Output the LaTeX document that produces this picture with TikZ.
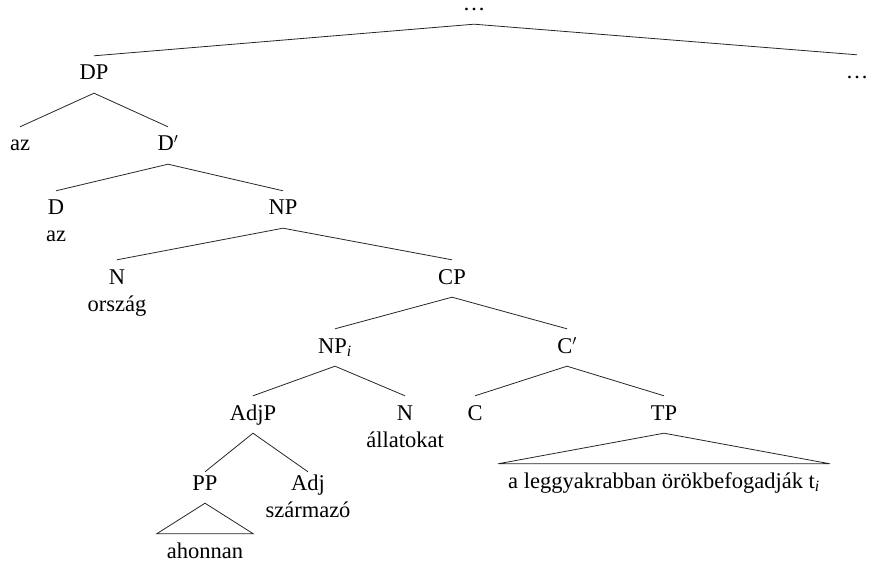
\documentclass[tikz,border=0pt]{standalone}
\usepackage{fontspec}
\setmainfont{Liberation Serif}
\begin{document}
\begin{tikzpicture}[x=1pt,y=-1pt,
  lbl/.style={anchor=base,inner xsep=0pt,inner ysep=9pt,text height=15pt,text depth=4pt,
    font=\fontsize{22.5}{27}\selectfont},
  word/.style={anchor=base,inner sep=0pt,font=\fontsize{22.5}{27}\selectfont},
  tri/.style={lbl,inner xsep=10pt},
  edge/.style={draw=black!85,line width=0.8pt}]
\useasboundingbox (0,0) rectangle (875,561);

% labels
\node[lbl] (top) at (474,11) {\dots};
\node[lbl] (dp) at (94,80) {DP};
\node[lbl] (rdots) at (857,79) {\dots};
\node[lbl] (az1) at (20,151) {az};
\node[lbl] (dbar) at (168,151) {D$'$};
\node[lbl] (d) at (56,215) {D};
\node[word] (az2) at (56,242) {az};
\node[lbl] (np) at (283,215) {NP};
\node[lbl] (n1) at (117,284) {N};
\node[word] (orszag) at (117,311) {ország};
\node[lbl] (cp) at (452,284) {CP};
\node[lbl] (npi) at (335,353) {NP\textsubscript{\textit{i}}};
\node[lbl] (cbar) at (567,353) {C$'$};
\node[lbl] (adjp) at (253,420) {AdjP};
\node[lbl] (n2) at (405,420) {N};
\node[word] (allatokat) at (405,447) {állatokat};
\node[lbl] (c) at (475,420) {C};
\node[lbl] (tp) at (664,420) {TP};
\node[tri] (tpt) at (664,488) {a leggyakrabban örökbefogadják t\textsubscript{\textit{i}}};
\node[lbl] (pp) at (205,490) {PP};
\node[lbl] (adj) at (308,490) {Adj};
\node[word] (szarmazo) at (308,517) {származó};
\node[tri] (ahonnan) at (205,558) {ahonnan};

% branches
\draw[edge] (dp.north) -- (top.south) -- (rdots.north);
\draw[edge] (az1.north) -- (dp.south) -- (dbar.north);
\draw[edge] (d.north) -- (dbar.south) -- (np.north);
\draw[edge] (n1.north) -- (np.south) -- (cp.north);
\draw[edge] (npi.north) -- (cp.south) -- (cbar.north);
\draw[edge] (adjp.north) -- (npi.south) -- (n2.north);
\draw[edge] (c.north) -- (cbar.south) -- (tp.north);
\draw[edge] ([yshift=-6pt]pp.north) -- (adjp.south) -- ([yshift=-6pt]adj.north);

% triangles
\draw[edge] (tpt.north west) -- (tp.south) -- (tpt.north east) -- cycle;
\draw[edge] (ahonnan.north west) -- (pp.south) -- (ahonnan.north east) -- cycle;
\end{tikzpicture}
\end{document}
